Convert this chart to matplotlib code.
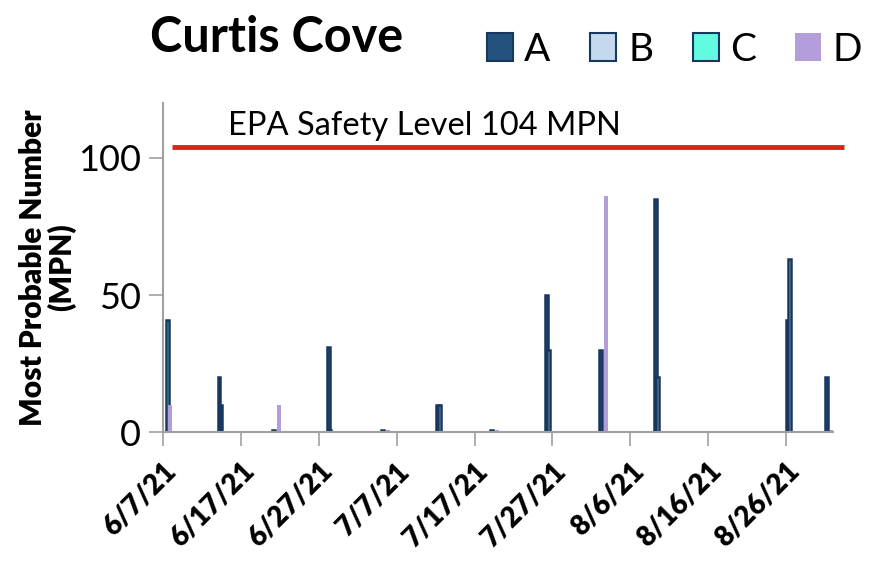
import datetime as dt
import numpy as np
import matplotlib
matplotlib.use('Agg')
from matplotlib import pyplot as plt
import matplotlib.dates as mdates
from matplotlib.patches import Rectangle

plt.rcParams['font.family'] = ['Lato', 'DejaVu Sans']

# Sample dates and MPN values per site
dates = ['2021-06-07', '2021-06-14', '2021-06-21', '2021-06-28', '2021-07-05',
         '2021-07-12', '2021-07-19', '2021-07-26', '2021-08-02', '2021-08-09',
         '2021-08-26', '2021-08-31']
site_a = [0, 20, 1, 31, 1, 10, 1, 50, 30, 85, 41, 20]
site_b = [0, 10, 0, 1, 0, 10, 0, 30, 0, 20, 63, 0]
site_c = [41, 0, 0, 0, 0, 0, 0, 0, 0, 0, 0, 0]
site_d = [10, 0, 10, 0, 1, 0, 1, 0, 86, 0, 0, 1]

tick_dates = ['2021-06-07', '2021-06-17', '2021-06-27', '2021-07-07', '2021-07-17',
              '2021-07-27', '2021-08-06', '2021-08-16', '2021-08-26']
tick_labels = ['6/7/21', '6/17/21', '6/27/21', '7/7/21', '7/17/21',
               '7/27/21', '8/6/21', '8/16/21', '8/26/21']
epa_level = 104

def to_num(s):
    return mdates.date2num(dt.datetime.strptime(s, '%Y-%m-%d'))

x = np.array([to_num(d) for d in dates]) + 0.5
edge = '#17375e'
colors = {'A': '#24527f', 'B': '#c5d9ee', 'C': '#60fbe0', 'D': '#b39ddb'}

fig = plt.figure(figsize=(8.74, 5.63), dpi=100)
ax = fig.add_axes([0.1865, 0.232, 0.7665, 0.5854])

w = 0.36
ax.bar(x - 0.3, site_a, w, color=colors['A'], edgecolor=edge, linewidth=1.8)
ax.bar(x - 0.05, site_b, w, color=colors['B'], edgecolor=edge, linewidth=1.8)
ax.bar(x + 0.05, site_c, w, color=colors['C'], edgecolor=edge, linewidth=1.8)
ax.bar(x + 0.35, site_d, 0.5, color=colors['D'], edgecolor='none')

# EPA safety line
x0 = to_num('2021-06-07')
ax.plot([x0 + 1.1, x0 + 87.4], [epa_level, epa_level], color='#d9261c', lw=3.5,
        clip_on=False, solid_capstyle='butt')
ax.text(x0 + 8.3, epa_level + 2.0, 'EPA Safety Level 104 MPN', fontsize=23.5,
        va='bottom', ha='left')

ax.set_xlim(x0, to_num('2021-09-01'))
ax.set_ylim(0, 120)
ax.set_yticks([0, 50, 100])
ax.set_xticks([to_num(d) for d in tick_dates])
ax.set_xticklabels(tick_labels, rotation=45, ha='right', rotation_mode='anchor',
                   fontsize=20, fontweight='heavy')
ax.tick_params(axis='y', labelsize=26, length=10, color='#a0a0a0', width=1.2, pad=6)
ax.tick_params(axis='x', length=10, color='#a0a0a0', width=1.2, pad=8)

for s in ['top', 'right']:
    ax.spines[s].set_visible(False)
for s in ['left', 'bottom']:
    ax.spines[s].set_color('#a0a0a0')
    ax.spines[s].set_linewidth(1.5)

ax.set_ylabel('Most Probable Number\n(MPN)', fontsize=21.5, fontweight='heavy',
              linespacing=1.0, labelpad=1)

fig.text(0.172, 0.934, 'Curtis Cove', fontsize=35, fontweight='bold', va='center')

# legend drawn by hand to match the reference spacing
W, H = 874, 563
for lab, xs, xt in [('A', 487, 524), ('B', 590, 628), ('C', 693, 730), ('D', 795, 833)]:
    ec = 'none' if lab == 'D' else edge
    fig.add_artist(Rectangle((xs / W, 1 - 61 / H), 26 / W, 28 / H,
                             transform=fig.transFigure, facecolor=colors[lab],
                             edgecolor=ec, linewidth=1.5))
    fig.text(xt / W, 1 - 50 / H, lab, fontsize=28, va='center', ha='left')

plt.savefig('out.png', dpi=100)
